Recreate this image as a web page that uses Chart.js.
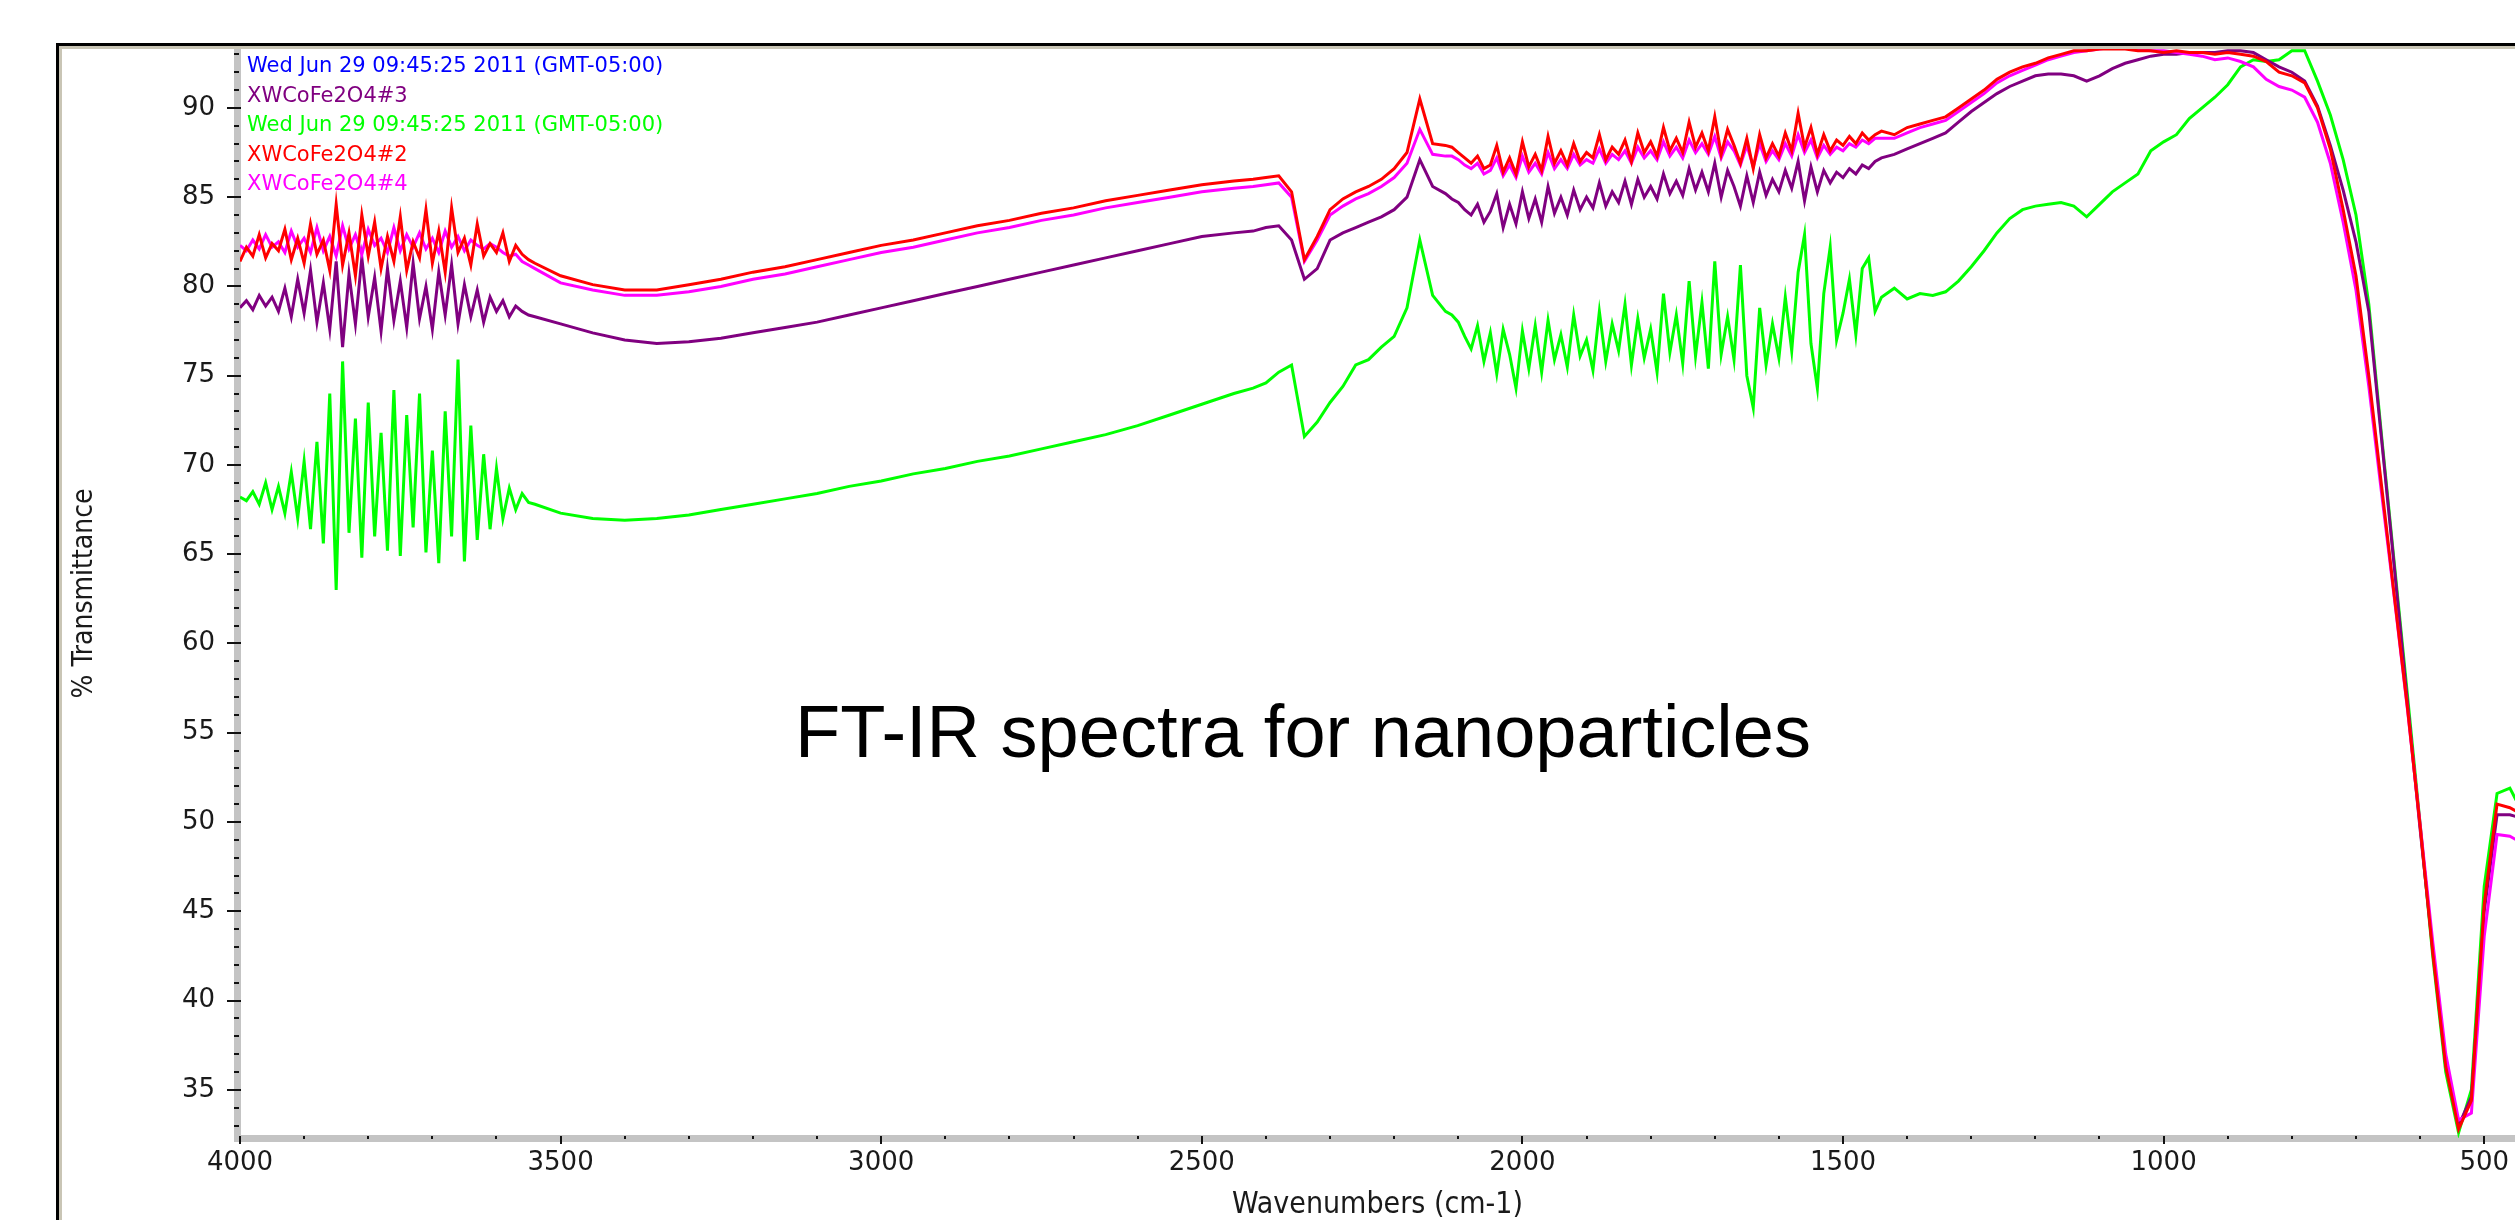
<!DOCTYPE html>
<html>
<head>
<meta charset="utf-8">
<script src="https://cdn.jsdelivr.net/npm/chart.js@4.4.1/dist/chart.umd.min.js"></script>
<style>
  html, body { margin: 0; padding: 0; background: #fff; }
</style>
</head>
<body>
<canvas id="spectra" width="2515" height="1220"></canvas>
<script>
// wavenumber grid (cm-1), shared by all four spectra; finer where the traces are noisy
const wavenumbers = [
  4000, 3990, 3980, 3970, 3960, 3950, 3940, 3930, 3920, 3910,
  3900, 3890, 3880, 3870, 3860, 3850, 3840, 3830, 3820, 3810,
  3800, 3790, 3780, 3770, 3760, 3750, 3740, 3730, 3720, 3710,
  3700, 3690, 3680, 3670, 3660, 3650, 3640, 3630, 3620, 3610,
  3600, 3590, 3580, 3570, 3560, 3550, 3540,
  3500, 3450, 3400, 3350, 3300, 3250, 3200, 3150, 3100, 3050, 3000,
  2950, 2900, 2850, 2800, 2750, 2700, 2650, 2600, 2550, 2500, 2450,
  2420, 2400, 2380, 2360, 2340, 2320, 2300, 2280, 2260, 2240,
  2220, 2200, 2180, 2160, 2140, 2120,
  2110, 2100, 2090, 2080, 2070, 2060, 2050, 2040, 2030, 2020,
  2010, 2000, 1990, 1980, 1970, 1960, 1950, 1940, 1930, 1920,
  1910, 1900, 1890, 1880, 1870, 1860, 1850, 1840, 1830, 1820,
  1810, 1800, 1790, 1780, 1770, 1760, 1750, 1740, 1730, 1720,
  1710, 1700, 1690, 1680, 1670, 1660, 1650, 1640, 1630, 1620,
  1610, 1600, 1590, 1580, 1570, 1560, 1550, 1540, 1530, 1520,
  1510, 1500, 1490, 1480, 1470, 1460, 1450,
  1440, 1420, 1400, 1380, 1360, 1340, 1320, 1300, 1280, 1260,
  1240, 1220, 1200, 1180, 1160, 1140, 1120, 1100, 1080, 1060,
  1040, 1020, 1000, 980, 960, 940, 920, 900, 880, 860,
  840, 820, 800, 780, 760, 740, 720, 700, 680, 660,
  640, 620, 600, 580, 560, 540, 520, 500, 480, 460,
  450
];

// XWCoFe2O4#2 (red)
const sample2 = [
  81.4, 82.2, 81.7, 82.9, 81.6, 82.4, 82.0, 83.2, 81.5, 82.7,
  81.3, 83.5, 81.8, 82.6, 80.9, 84.6, 81.2, 83.0, 80.6, 84.0,
  81.7, 83.6, 81.0, 82.8, 81.4, 83.9, 80.9, 82.5, 81.6, 84.3,
  81.3, 83.1, 80.8, 84.4, 81.9, 82.7, 81.2, 83.5, 81.7, 82.4,
  81.9, 83.0, 81.4, 82.3, 81.8, 81.5, 81.3,
  80.6, 80.1, 79.8, 79.8, 80.1, 80.4, 80.8, 81.1, 81.5, 81.9, 82.3,
  82.6, 83.0, 83.4, 83.7, 84.1, 84.4, 84.8, 85.1, 85.4, 85.7, 85.9,
  86.0, 86.1, 86.2, 85.3, 81.5, 82.8, 84.3, 84.9, 85.3, 85.6,
  86.0, 86.6, 87.5, 90.5, 88.0, 87.9,
  87.8, 87.5, 87.2, 86.9, 87.3, 86.6, 86.8, 87.9, 86.4, 87.2,
  86.3, 88.1, 86.7, 87.4, 86.5, 88.4, 86.9, 87.6, 86.8, 88.0,
  87.0, 87.5, 87.2, 88.5, 87.1, 87.8, 87.4, 88.2, 87.0, 88.6,
  87.5, 88.1, 87.3, 88.9, 87.6, 88.3, 87.5, 89.2, 87.8, 88.6,
  87.6, 89.5, 87.4, 88.8, 87.9, 86.9, 88.3, 86.6, 88.5, 87.2,
  88.0, 87.3, 88.6, 87.6, 89.7, 87.8, 88.9, 87.4, 88.5, 87.6,
  88.2, 87.9, 88.4, 88.0, 88.6, 88.2, 88.5,
  88.7, 88.5, 88.9, 89.1, 89.3, 89.5, 90.0, 90.5, 91.0, 91.6,
  92.0, 92.3, 92.5, 92.8, 93.0, 93.2, 93.2, 93.3, 93.3, 93.3,
  93.2, 93.2, 93.1, 93.2, 93.1, 93.1, 93.0, 93.1, 93.0, 92.9,
  92.6, 92.0, 91.8, 91.4, 90.0, 87.7, 84.3, 80.6, 75.0, 68.8,
  62.6, 56.5, 49.8, 42.6, 36.3, 32.8, 34.4, 45.4, 51.0, 50.8,
  50.6
];

// XWCoFe2O4#4 (magenta)
const sample4 = [
  82.3, 82.0, 82.6, 82.1, 82.9, 82.2, 82.5, 81.9, 83.1, 82.2,
  82.7, 81.9, 83.3, 82.0, 82.8, 81.7, 83.4, 82.1, 82.9, 81.8,
  83.2, 82.3, 82.7, 81.9, 83.3, 82.0, 82.9, 82.2, 83.0, 82.1,
  82.7, 81.9, 83.1, 82.2, 82.8, 82.0, 82.6, 82.3, 82.1, 82.4,
  82.2, 81.9, 81.7, 81.8, 81.4, 81.2, 81.0,
  80.2, 79.8, 79.5, 79.5, 79.7, 80.0, 80.4, 80.7, 81.1, 81.5, 81.9,
  82.2, 82.6, 83.0, 83.3, 83.7, 84.0, 84.4, 84.7, 85.0, 85.3, 85.5,
  85.6, 85.7, 85.8, 85.0, 81.4, 82.6, 84.0, 84.5, 84.9, 85.2,
  85.6, 86.1, 86.9, 88.8, 87.4, 87.3,
  87.3, 87.1, 86.8, 86.6, 86.9, 86.3, 86.5, 87.2, 86.2, 86.8,
  86.1, 87.3, 86.4, 86.9, 86.3, 87.5, 86.6, 87.1, 86.6, 87.4,
  86.8, 87.1, 86.9, 87.7, 86.9, 87.4, 87.1, 87.6, 86.9, 87.8,
  87.2, 87.6, 87.1, 88.1, 87.3, 87.8, 87.2, 88.2, 87.5, 88.0,
  87.4, 88.4, 87.2, 88.1, 87.6, 86.8, 87.9, 86.7, 88.0, 87.0,
  87.6, 87.1, 88.0, 87.3, 88.5, 87.5, 88.2, 87.2, 87.9, 87.4,
  87.8, 87.6, 88.0, 87.8, 88.2, 88.0, 88.3,
  88.3, 88.3, 88.6, 88.9, 89.1, 89.3, 89.8, 90.3, 90.8, 91.4,
  91.8, 92.1, 92.4, 92.7, 92.9, 93.1, 93.2, 93.3, 93.4, 93.4,
  93.3, 93.2, 93.2, 93.1, 93.0, 92.9, 92.7, 92.8, 92.6, 92.3,
  91.6, 91.2, 91.0, 90.6, 89.2, 86.9, 83.6, 79.8, 74.4, 68.4,
  62.5, 56.4, 49.9, 43.2, 37.0, 33.3, 33.7, 43.6, 49.3, 49.2,
  49.0
];

// XWCoFe2O4#3 (purple)
const sample3 = [
  78.8, 79.2, 78.7, 79.5, 78.9, 79.4, 78.6, 79.9, 78.3, 80.4,
  78.5, 80.9, 78.0, 80.2, 77.6, 81.4, 76.6, 80.7, 77.9, 81.6,
  78.3, 80.5, 77.5, 81.0, 78.1, 80.3, 77.7, 81.3, 78.2, 80.0,
  77.6, 80.8, 78.4, 81.2, 77.9, 80.1, 78.3, 79.8, 78.0, 79.4,
  78.6, 79.2, 78.3, 78.9, 78.6, 78.4, 78.3,
  77.9, 77.4, 77.0, 76.8, 76.9, 77.1, 77.4, 77.7, 78.0, 78.4, 78.8,
  79.2, 79.6, 80.0, 80.4, 80.8, 81.2, 81.6, 82.0, 82.4, 82.8, 83.0,
  83.1, 83.3, 83.4, 82.6, 80.4, 81.0, 82.6, 83.0, 83.3, 83.6,
  83.9, 84.3, 85.0, 87.1, 85.6, 85.2,
  84.9, 84.7, 84.3, 84.0, 84.6, 83.6, 84.2, 85.2, 83.3, 84.6,
  83.5, 85.3, 83.8, 84.9, 83.6, 85.6, 84.1, 85.0, 84.0, 85.4,
  84.3, 85.0, 84.4, 85.8, 84.5, 85.3, 84.7, 85.9, 84.6, 86.0,
  85.0, 85.6, 84.9, 86.3, 85.2, 85.9, 85.1, 86.6, 85.4, 86.4,
  85.3, 86.9, 85.0, 86.5, 85.6, 84.5, 86.2, 84.7, 86.4, 85.1,
  86.0, 85.3, 86.5, 85.5, 87.0, 84.8, 86.7, 85.3, 86.5, 85.8,
  86.4, 86.1, 86.6, 86.3, 86.8, 86.6, 87.0,
  87.2, 87.4, 87.7, 88.0, 88.3, 88.6, 89.2, 89.8, 90.3, 90.8,
  91.2, 91.5, 91.8, 91.9, 91.9, 91.8, 91.5, 91.8, 92.2, 92.5,
  92.7, 92.9, 93.0, 93.0, 93.1, 93.1, 93.1, 93.2, 93.2, 93.1,
  92.7, 92.3, 92.0, 91.5, 90.1, 87.9, 85.4, 82.5, 78.6, 71.4,
  64.2, 56.8, 49.6, 42.8, 36.4, 33.0, 34.6, 45.0, 50.4, 50.4,
  50.3
];

// second Jun 29 spectrum (green)
const sampleGreen = [
  68.2, 68.0, 68.5, 67.8, 69.0, 67.5, 68.8, 67.3, 69.6, 67.0,
  70.2, 66.4, 71.3, 65.6, 74.0, 63.0, 75.8, 66.2, 72.6, 64.8,
  73.5, 66.0, 71.8, 65.2, 74.2, 64.9, 72.8, 66.5, 74.0, 65.1,
  70.8, 64.5, 73.0, 66.0, 75.9, 64.6, 72.2, 65.8, 70.6, 66.4,
  69.8, 67.0, 68.7, 67.5, 68.4, 67.9, 67.8,
  67.3, 67.0, 66.9, 67.0, 67.2, 67.5, 67.8, 68.1, 68.4, 68.8, 69.1,
  69.5, 69.8, 70.2, 70.5, 70.9, 71.3, 71.7, 72.2, 72.8, 73.4, 74.0,
  74.3, 74.6, 75.2, 75.6, 71.6, 72.4, 73.5, 74.4, 75.6, 75.9,
  76.6, 77.2, 78.8, 82.6, 79.5, 78.6,
  78.4, 78.0, 77.2, 76.5, 77.8, 75.8, 77.4, 75.1, 77.6, 76.2,
  74.3, 77.5, 75.4, 77.8, 75.2, 78.1, 75.9, 77.3, 75.5, 78.4,
  76.1, 77.0, 75.3, 78.6, 75.8, 77.9, 76.4, 79.0, 75.6, 78.2,
  76.0, 77.6, 75.2, 79.6, 76.3, 78.4, 75.7, 80.3, 76.1, 79.1,
  75.4, 81.4, 76.2, 78.3, 75.9, 81.2, 75.0, 73.2, 78.8, 75.6,
  77.9, 76.0, 79.4, 76.4, 80.8, 82.9, 76.8, 74.3, 79.6, 82.2,
  77.0, 78.5, 80.4, 77.3, 81.0, 81.6, 78.6,
  79.4, 79.9, 79.3, 79.6, 79.5, 79.7, 80.3, 81.1, 82.0, 83.0,
  83.8, 84.3, 84.5, 84.6, 84.7, 84.5, 83.9, 84.6, 85.3, 85.8,
  86.3, 87.6, 88.1, 88.5, 89.4, 90.0, 90.6, 91.3, 92.3, 92.7,
  92.6, 92.7, 93.2, 93.2, 91.5, 89.6, 87.1, 84.0, 79.0, 71.6,
  64.4, 57.2, 49.9, 42.4, 36.0, 32.6, 35.0, 46.4, 51.6, 51.9,
  51.2
];

const xTickValues = [500, 1000, 1500, 2000, 2500, 3000, 3500, 4000];
const yTickValues = [35, 40, 45, 50, 55, 60, 65, 70, 75, 80, 85, 90];

const legendLabels = [
  'Wed Jun 29 09:45:25 2011 (GMT-05:00)',
  'XWCoFe2O4#3',
  'Wed Jun 29 09:45:25 2011 (GMT-05:00)',
  'XWCoFe2O4#2',
  'XWCoFe2O4#4'
];
const legendColors = ['#0000ff', '#800080', '#00ff00', '#ff0000', '#ff00ff'];

const chartTitle = 'FT-IR spectra for nanoparticles';
const xTitle = 'Wavenumbers (cm-1)';
const yTitle = '% Transmittance';

const toPoints = (vals) => wavenumbers.map((w, i) => ({ x: w, y: vals[i] }));

const narrowFont = '"Liberation Sans Narrow", "DejaVu Sans Condensed", "Liberation Sans", sans-serif';
const tickFont = { family: '"DejaVu Sans", sans-serif', size: 26 };

// window frame, grey axis bars with their tick marks, legend lines and the caption
const spectrumDecor = {
    id: 'spectrumDecor',
    beforeDraw(chart) {
        const ctx = chart.ctx;
        ctx.save();
        ctx.fillStyle = '#ffffff';
        ctx.fillRect(0, 0, chart.width, chart.height);
        ctx.fillStyle = '#000000';
        ctx.fillRect(56, 43, chart.width - 56, 3);
        ctx.fillRect(56, 43, 3, chart.height - 43);
        ctx.fillStyle = '#c9c5b5';
        ctx.fillRect(59, 46, chart.width - 59, 3);
        ctx.fillRect(59, 46, 3, chart.height - 46);
        ctx.restore();
    },
    beforeDatasetsDraw(chart) {
        const { ctx, chartArea: a, scales: { x, y } } = chart;
        ctx.save();
        ctx.fillStyle = '#c4c4c4';
        ctx.fillRect(a.left - 6, a.top, 7, a.bottom - a.top + 3);
        ctx.fillRect(a.left - 6, a.bottom - 3, a.right - a.left + 6, 7);
        ctx.fillStyle = '#111111';
        for (let v = Math.ceil(y.min); v <= y.max; v++) {
            const py = Math.round(y.getPixelForValue(v));
            if (v % 5 === 0) {
                ctx.fillRect(a.left - 13, py - 1, 14, 2);
            } else {
                ctx.fillRect(a.left - 6, py - 1, 5, 2);
            }
        }
        for (let w = 500; w <= 4000; w += 100) {
            const px = Math.round(x.getPixelForValue(w));
            if (w % 500 === 0) {
                ctx.fillRect(px - 1, a.bottom - 2, 2, 8);
            } else {
                ctx.fillRect(px - 1, a.bottom - 2, 2, 3);
            }
        }
        ctx.restore();
    },
    afterDraw(chart) {
        const ctx = chart.ctx;
        const a = chart.chartArea;
        ctx.save();
        ctx.font = '21px "DejaVu Sans", sans-serif';
        ctx.textAlign = 'left';
        ctx.textBaseline = 'middle';
        legendLabels.forEach((txt, i) => {
            ctx.fillStyle = legendColors[i];
            ctx.fillText(txt, a.left + 7, 67 + i * 29.5);
        });
        ctx.font = '74px "Liberation Sans", Arial, sans-serif';
        ctx.fillStyle = '#000000';
        ctx.textAlign = 'center';
        ctx.textBaseline = 'alphabetic';
        ctx.fillText(chartTitle, 1303, 757);
        ctx.restore();
    }
};

const line = (vals, color) => ({
    data: toPoints(vals),
    borderColor: color,
    borderWidth: 3,
    pointRadius: 0,
    tension: 0,
    fill: false
});

new Chart(document.getElementById('spectra').getContext('2d'), {
    type: 'line',
    data: {
        datasets: [
            line(sample2, '#ff0000'),
            line(sample4, '#ff00ff'),
            line(sample3, '#800080'),
            line(sampleGreen, '#00ff00')
        ]
    },
    options: {
        responsive: false,
        animation: false,
        devicePixelRatio: 1,
        layout: { padding: { left: 0, top: 49, right: 0, bottom: 0 } },
        plugins: {
            legend: { display: false },
            title: { display: false },
            tooltip: { enabled: false }
        },
        scales: {
            x: {
                type: 'linear',
                reverse: true,
                min: 452,
                max: 4000,
                afterBuildTicks(scale) { scale.ticks = xTickValues.map(v => ({ value: v })); },
                afterFit(scale) { scale.height = 82; },
                grid: { display: false, drawTicks: false },
                border: { display: false },
                ticks: {
                    autoSkip: false,
                    maxRotation: 0,
                    padding: 10,
                    color: '#1a1a1a',
                    font: tickFont,
                    callback: (v) => String(v)
                },
                title: {
                    display: true,
                    text: xTitle,
                    color: '#1a1a1a',
                    padding: { top: 0, bottom: 0 },
                    font: { family: narrowFont, size: 30, lineHeight: 1 }
                }
            },
            y: {
                type: 'linear',
                min: 32.3,
                max: 93.3,
                afterBuildTicks(scale) { scale.ticks = yTickValues.map(v => ({ value: v })); },
                afterFit(scale) { scale.width = 240; },
                grid: { display: false, drawTicks: false },
                border: { display: false },
                ticks: {
                    padding: 25,
                    color: '#1a1a1a',
                    font: tickFont,
                    callback: (v) => String(v)
                },
                title: {
                    display: true,
                    text: yTitle,
                    color: '#1a1a1a',
                    padding: { top: 68, bottom: 0 },
                    font: { family: narrowFont, size: 28, lineHeight: 1.2 }
                }
            }
        }
    },
    plugins: [spectrumDecor]
});
</script>
</body>
</html>
